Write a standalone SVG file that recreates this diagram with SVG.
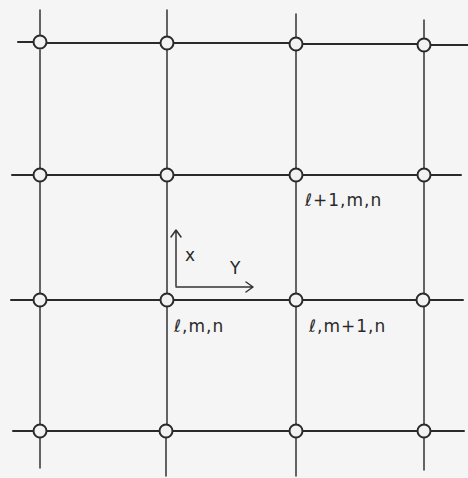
<svg xmlns="http://www.w3.org/2000/svg" width="468" height="478" viewBox="0 0 468 478">
<style>
.h{stroke:#2a2a2a;stroke-width:2;stroke-linecap:round;fill:none}
.v{stroke:#333;stroke-width:1.5;stroke-linecap:round;fill:none}
.n{fill:#f2f2f2;stroke:#2a2a2a;stroke-width:2}
.t{font-family:"DejaVu Sans",sans-serif;font-size:17px;letter-spacing:1px;fill:#2a2a2a}
.ax{stroke:#333;stroke-width:1.5;fill:none;stroke-linecap:round;stroke-linejoin:round}
</style>
<rect width="468" height="478" fill="#f5f5f5"/>
<g id="connectors">
<path class="h" d="M18 42H33M47 43H160M174 43H289M303 44H417M431 45H468"/>
<path class="h" d="M12 175H33M47 175H160M174 175H289M303 175H417M431 175H461"/>
<path class="h" d="M11 300H33M47 300H160M174 300H289M303 300H416M430 300H463"/>
<path class="h" d="M13 431H33M47 431H159M173 431H289M303 431H417M431 431H464"/>
<path class="v" d="M40 10V35M40 50V168M40 182V293M40 307V424M40 438V468"/>
<path class="v" d="M167 10V36M167 50V168M167 182V293M167 307V424M166 438V476"/>
<path class="v" d="M296 14V37M296 51V168M296 182V293M296 307V424M296 438V476"/>
<path class="v" d="M424 20V38M424 52V168M424 182V293M424 307V424M424 438V470"/>
</g>
<g id="axes">
<path class="ax" d="M176 286V231M171 237L176 230L181 237"/>
<path class="ax" d="M176 287H252M246 282L253 287L246 292"/>
<text class="t" x="185" y="261">x</text>
<text class="t" x="230" y="274">Y</text>
</g>
<g id="n11"><circle class="n" cx="40" cy="42" r="6.5"/></g>
<g id="n12"><circle class="n" cx="167" cy="43" r="6.5"/></g>
<g id="n13"><circle class="n" cx="296" cy="44" r="6.5"/></g>
<g id="n14"><circle class="n" cx="424" cy="45" r="6.5"/></g>
<g id="n21"><circle class="n" cx="40" cy="175" r="6.5"/></g>
<g id="n22"><circle class="n" cx="167" cy="175" r="6.5"/></g>
<g id="n23"><circle class="n" cx="296" cy="175" r="6.5"/><text class="t" x="305" y="206">ℓ+1,m,n</text></g>
<g id="n24"><circle class="n" cx="424" cy="175" r="6.5"/></g>
<g id="n31"><circle class="n" cx="40" cy="300" r="6.5"/></g>
<g id="n32"><circle class="n" cx="167" cy="300" r="6.5"/><text class="t" x="174" y="332">ℓ,m,n</text></g>
<g id="n33"><circle class="n" cx="296" cy="300" r="6.5"/><text class="t" x="309" y="332">ℓ,m+1,n</text></g>
<g id="n34"><circle class="n" cx="423" cy="300" r="6.5"/></g>
<g id="n41"><circle class="n" cx="40" cy="431" r="6.5"/></g>
<g id="n42"><circle class="n" cx="166" cy="431" r="6.5"/></g>
<g id="n43"><circle class="n" cx="296" cy="431" r="6.5"/></g>
<g id="n44"><circle class="n" cx="424" cy="431" r="6.5"/></g>
</svg>
